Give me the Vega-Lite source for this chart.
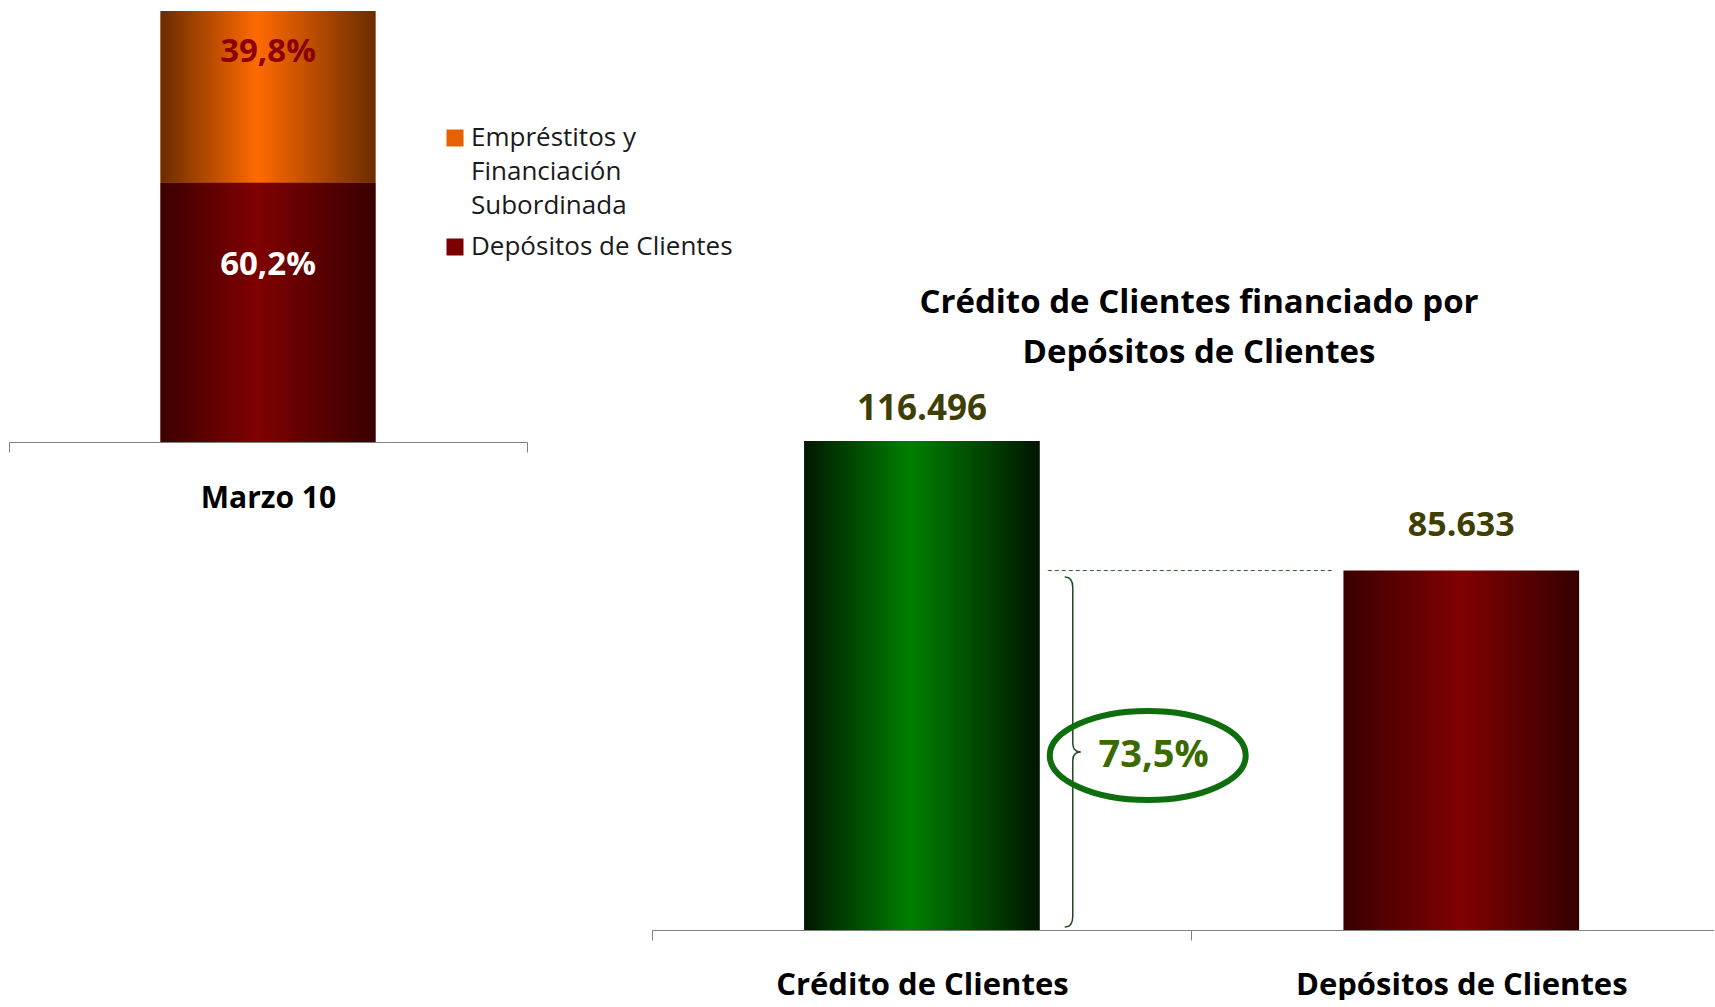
{
  "$schema": "https://vega.github.io/schema/vega-lite/v6.json",
  "background": "white",
  "padding": {"left": 8, "top": 11, "right": 0, "bottom": 0},
  "bounds": "flush",
  "spacing": 125,
  "config": {
    "font": "Open Sans",
    "view": {"stroke": null},
    "axis": {"domainColor": "#808080", "tickColor": "#808080", "domainWidth": 1, "tickWidth": 1}
  },
  "hconcat": [
    {
      "width": 518,
      "height": 431,
      "data": {"values": [
        {"periodo": "Marzo 10", "serie": "Depósitos de Clientes", "valor": 60.2, "etiqueta": "60,2%"},
        {"periodo": "Marzo 10", "serie": "Empréstitos y Financiación Subordinada", "valor": 39.8, "etiqueta": "39,8%"}
      ]},
      "transform": [
        {"stack": "valor", "groupby": ["periodo"], "sort": [{"field": "serie", "order": "ascending"}], "as": ["y0", "y1"]}
      ],
      "encoding": {
        "x": {
          "field": "periodo", "type": "nominal", "title": null,
          "scale": {"paddingInner": 0, "paddingOuter": 0},
          "axis": {"labelAngle": 0, "labelFontSize": 30, "labelFontWeight": "bold", "labelColor": "#000000", "labelBaseline": "alphabetic", "labelPadding": 55, "tickBand": "extent", "tickSize": 10}
        }
      },
      "layer": [
        {
          "mark": {"type": "bar", "width": {"band": 0.415}},
          "encoding": {
            "y": {"field": "y1", "type": "quantitative", "scale": {"domain": [0, 100], "nice": false}, "axis": null},
            "y2": {"field": "y0"},
            "fill": {
              "field": "serie", "type": "nominal",
              "scale": {"domain": ["Empréstitos y Financiación Subordinada", "Depósitos de Clientes"], "range": ["#E86100", "#7A0000"]},
              "legend": {
                "title": null, "orient": "none", "legendX": 433, "legendY": 114,
                "symbolType": "square", "symbolSize": 289, "symbolStrokeWidth": 0, "symbolOpacity": 1,
                "labelFontSize": 26, "labelColor": "#1a1a1a", "labelLimit": 400, "labelOffset": 3,
                "rowPadding": 15, "padding": 0,
                "labelExpr": "datum.label === 'Empréstitos y Financiación Subordinada' ? ['Empréstitos y', 'Financiación', 'Subordinada'] : datum.label",
                "encode": {
                  "labels": {"update": {"lineHeight": {"value": 34}}},
                  "symbols": {"update": {"fill": {"signal": "datum.value === 'Depósitos de Clientes' ? {gradient: 'linear', x1: 0, y1: 0, x2: 1, y2: 0, stops: [{offset: 0, color: '#3F0000'}, {offset: 1, color: '#8A0000'}]} : {gradient: 'linear', x1: 0, y1: 0, x2: 1, y2: 0, stops: [{offset: 0, color: '#8A3500'}, {offset: 1, color: '#FF6A00'}]}"}}}
                }
              }
            }
          }
        },
        {
          "mark": {"type": "bar", "width": {"band": 0.415}},
          "encoding": {
            "y": {"field": "y1", "type": "quantitative"},
            "y2": {"field": "y0"},
            "fill": {
              "condition": {
                "test": "datum.serie === 'Depósitos de Clientes'",
                "value": {"gradient": "linear", "x1": 0, "y1": 0, "x2": 1, "y2": 0, "stops": [
                  {"offset": 0, "color": "#3D0000"}, {"offset": 0.45, "color": "#800000"}, {"offset": 1, "color": "#380000"}
                ]}
              },
              "value": {"gradient": "linear", "x1": 0, "y1": 0, "x2": 1, "y2": 0, "stops": [
                {"offset": 0, "color": "#6B2C00"}, {"offset": 0.45, "color": "#FF6A00"}, {"offset": 1, "color": "#6B2C00"}
              ]}
            }
          }
        },
        {
          "transform": [{"filter": "datum.serie === 'Empréstitos y Financiación Subordinada'"}],
          "mark": {"type": "text", "dy": 41, "fontSize": 33, "fontWeight": "bold", "color": "#8B0000", "baseline": "middle"},
          "encoding": {"y": {"field": "y1", "type": "quantitative"}, "text": {"field": "etiqueta"}}
        },
        {
          "transform": [{"filter": "datum.serie === 'Depósitos de Clientes'"}],
          "mark": {"type": "text", "dy": 82, "fontSize": 33, "fontWeight": "bold", "color": "#FFFFFF", "baseline": "middle"},
          "encoding": {"y": {"field": "y1", "type": "quantitative"}, "text": {"field": "etiqueta"}}
        }
      ]
    },
    {
      "width": 1062,
      "height": 919,
      "title": {
        "text": ["Crédito de Clientes financiado por", "Depósitos de Clientes"],
        "fontSize": 33, "fontWeight": "bold", "lineHeight": 50, "anchor": "middle", "dx": 16,
        "offset": -385, "baseline": "alphabetic", "color": "#000000"
      },
      "data": {"values": [
        {"concepto": "Crédito de Clientes", "valor": 116496, "etiqueta": "116.496"},
        {"concepto": "Depósitos de Clientes", "valor": 85633, "etiqueta": "85.633"}
      ]},
      "encoding": {
        "x": {
          "field": "concepto", "type": "nominal", "title": null,
          "scale": {"domain": ["Crédito de Clientes", "Depósitos de Clientes"], "paddingInner": 0.563, "paddingOuter": 0.266, "align": 0.53},
          "axis": {"labelAngle": 0, "labelFontSize": 31, "labelFontWeight": "bold", "labelColor": "#000000", "labelBaseline": "alphabetic", "labelPadding": 54, "tickSize": 10, "tickOffset": -270, "labelOffset": 270, "labelLimit": 0}
        }
      },
      "layer": [
        {
          "mark": {"type": "bar"},
          "encoding": {
            "y": {"field": "valor", "type": "quantitative", "scale": {"domain": [0, 218934], "nice": false}, "axis": null},
            "fill": {
              "condition": {
                "test": "datum.concepto === 'Crédito de Clientes'",
                "value": {"gradient": "linear", "x1": 0, "y1": 0, "x2": 1, "y2": 0, "stops": [
                  {"offset": 0, "color": "#001800"}, {"offset": 0.45, "color": "#008000"}, {"offset": 1, "color": "#001500"}
                ]}
              },
              "value": {"gradient": "linear", "x1": 0, "y1": 0, "x2": 1, "y2": 0, "stops": [
                {"offset": 0, "color": "#3A0000"}, {"offset": 0.5, "color": "#800000"}, {"offset": 1, "color": "#350000"}
              ]}
            }
          }
        },
        {
          "transform": [{"filter": "datum.concepto === 'Crédito de Clientes'"}],
          "mark": {"type": "text", "dy": -32, "fontSize": 35, "fontWeight": "bold", "color": "#3F3F05", "baseline": "middle"},
          "encoding": {"y": {"field": "valor", "type": "quantitative"}, "text": {"field": "etiqueta"}}
        },
        {
          "transform": [{"filter": "datum.concepto === 'Depósitos de Clientes'"}],
          "mark": {"type": "text", "dy": -45, "fontSize": 34, "fontWeight": "bold", "color": "#3F3F05", "baseline": "middle"},
          "encoding": {"y": {"field": "valor", "type": "quantitative"}, "text": {"field": "etiqueta"}}
        },
        {
          "data": {"values": [{"desde": "Crédito de Clientes", "hasta": "Depósitos de Clientes", "valor": 85633}]},
          "mark": {"type": "rule", "strokeDash": [4, 3], "color": "#2F5F2F", "strokeWidth": 1},
          "encoding": {
            "x": {"field": "desde", "type": "nominal", "bandPosition": 1.034},
            "x2": {"field": "hasta", "bandPosition": -0.05},
            "y": {"field": "valor", "type": "quantitative"}
          }
        },
        {
          "data": {"values": [{"concepto": "Crédito de Clientes", "valor": 42405}]},
          "mark": {"type": "point", "shape": "M-0.046,-1 Q0,-1 0,-0.94 L0,-0.05 Q0,0 0.046,0 Q0,0 0,0.05 L0,0.94 Q0,1 -0.046,1", "size": 122500, "filled": false, "color": "#1F4A1F", "strokeWidth": 1.5, "opacity": 1},
          "encoding": {
            "x": {"field": "concepto", "type": "nominal", "bandPosition": 1.14},
            "y": {"field": "valor", "type": "quantitative"}
          }
        },
        {
          "data": {"values": [{"concepto": "Crédito de Clientes", "valor": 41571, "texto": "73,5%"}]},
          "layer": [
            {
              "mark": {"type": "point", "shape": "M-1,0 A1,0.454 0 1,1 1,0 A1,0.454 0 1,1 -1,0 Z", "size": 38416, "filled": false, "color": "#0E6E0E", "strokeWidth": 6, "opacity": 1},
              "encoding": {
                "x": {"field": "concepto", "type": "nominal", "bandPosition": 1.458},
                "y": {"field": "valor", "type": "quantitative"}
              }
            },
            {
              "mark": {"type": "text", "fontSize": 38, "fontWeight": "bold", "color": "#3A6B00", "baseline": "middle"},
              "encoding": {
                "x": {"field": "concepto", "type": "nominal", "bandPosition": 1.483},
                "y": {"field": "valor", "type": "quantitative"},
                "text": {"field": "texto"}
              }
            }
          ]
        }
      ]
    }
  ]
}
